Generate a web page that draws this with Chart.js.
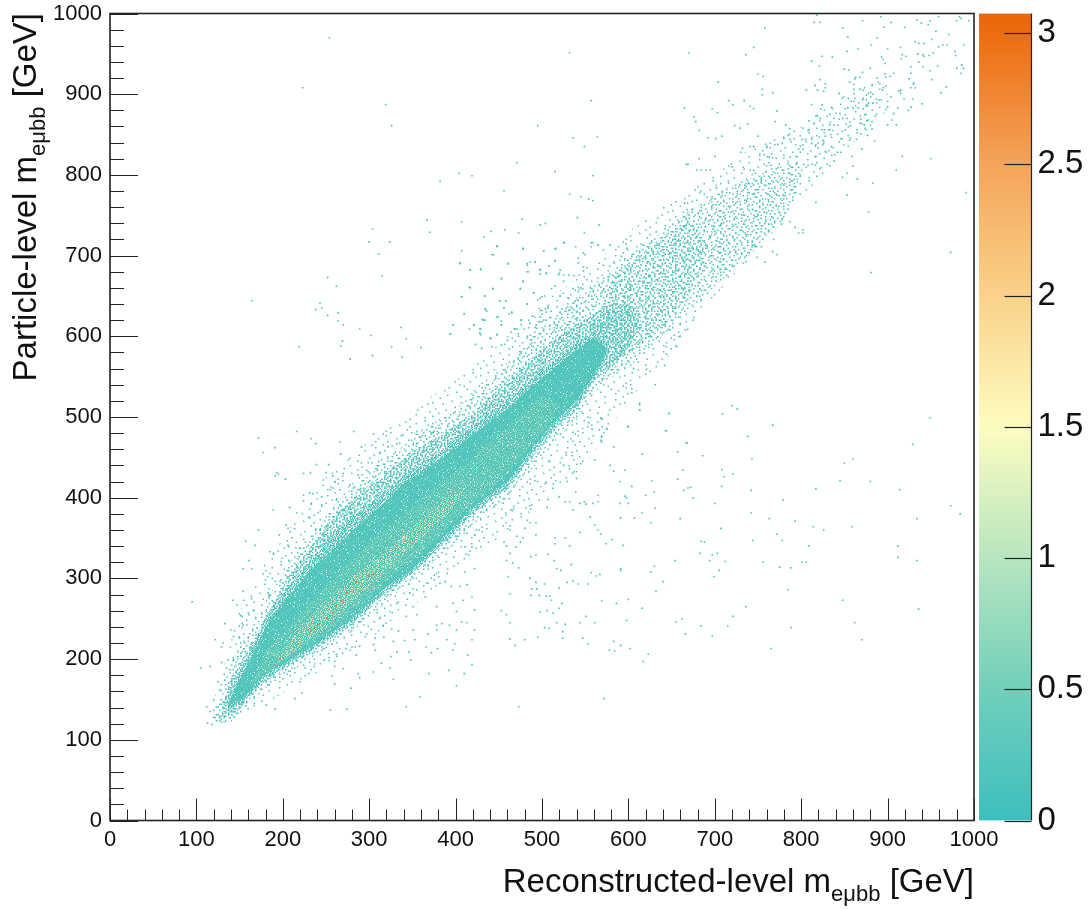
<!DOCTYPE html>
<html>
<head>
<meta charset="utf-8">
<title>Particle-level vs reconstructed-level mass</title>
<script src="https://cdn.jsdelivr.net/npm/chart.js@4"></script>
<style>
  html, body { margin: 0; padding: 0; background: #fff; }
  #wrap { position: relative; width: 1091px; height: 909px; overflow: hidden; }
  #main { position: absolute; left: 0; top: 0; }
  #zbar { position: absolute; left: 979px; top: 0; }
</style>
</head>
<body>
<div id="wrap">
  <canvas id="main" width="1091" height="909"></canvas>
  <canvas id="zbar" width="112" height="909"></canvas>
</div>
<script>
// axis ticks
const xTicks = [0, 100, 200, 300, 400, 500, 600, 700, 800, 900, 1000];
const yTicks = [0, 100, 200, 300, 400, 500, 600, 700, 800, 900, 1000];
const minorTicks = [20, 40, 60, 80, 120, 140, 160, 180, 220, 240, 260, 280, 320, 340, 360, 380, 420, 440, 460, 480, 520, 540, 560, 580, 620, 640, 660, 680, 720, 740, 760, 780, 820, 840, 860, 880, 920, 940, 960, 980];
const zTicks = [0, 0.5, 1, 1.5, 2, 2.5, 3];
const zMax = 3.075;
const zStops = [0, 0.5, 1, 1.5, 2, 2.5, 3.075];
const zColors = ["#3dbfbf", "#72cfbb", "#b8e6c0", "#fdfcc0", "#fbd28a", "#f4a45a", "#ec6405"];

// envelopes of the body at falling density (GeV)
const farX = [118, 150, 200, 250, 300, 350, 400, 450, 500, 550, 600, 650, 700, 750, 800, 850, 900];
const farUp = [140, 260, 350, 425, 470, 510, 545, 590, 640, 680, 730, 770, 800, 840, 860, 900, 925];
const farLow = [118, 125, 158, 190, 225, 265, 310, 350, 395, 440, 520, 580, 650, 710, 770, 830, 880];

const haloX = [122, 140, 160, 180, 200, 220, 240, 260, 280, 300, 320, 340, 360, 380, 400, 420, 440, 460, 480, 500, 520, 540, 560, 580, 600, 620, 640, 660, 680, 700, 720, 740, 760, 780, 800];
const haloUp = [135, 195, 235, 272, 305, 338, 365, 392, 412, 432, 448, 465, 482, 497, 510, 528, 548, 568, 590, 612, 630, 648, 665, 680, 700, 715, 730, 748, 762, 775, 785, 795, 805, 812, 815];
const haloLow = [120, 122, 143, 164, 178, 192, 207, 220, 234, 252, 272, 288, 305, 326, 344, 366, 384, 398, 425, 450, 476, 496, 530, 548, 562, 580, 600, 622, 640, 662, 680, 700, 720, 745, 790];

const wideX = [545, 580, 600, 620, 640, 655, 670, 690];
const wideUp = [560, 668, 690, 705, 720, 735, 745, 715];
const wideLow = [545, 565, 578, 595, 612, 632, 650, 700];

const sparseX = [128, 140, 150, 160, 180, 200, 220, 240, 260, 280, 300, 320, 340, 360, 380, 400, 420, 440, 460, 480, 500, 520, 540, 560, 580, 600, 615];
const sparseUp = [130, 178, 195, 212, 250, 290, 322, 350, 378, 398, 416, 430, 448, 464, 476, 490, 505, 525, 545, 565, 585, 600, 615, 628, 640, 640, 622];
const sparseLow = [125, 130, 138, 152, 172, 186, 200, 214, 228, 242, 262, 282, 298, 316, 338, 356, 380, 396, 410, 440, 464, 490, 508, 545, 560, 585, 618];

const solidX = [136, 150, 160, 180, 200, 220, 240, 260, 280, 300, 320, 340, 360, 380, 400, 420, 440, 460, 480, 500, 520, 540, 560, 575];
const thickUp = [146, 184, 204, 250, 281, 306, 332, 358, 376, 392, 408, 428, 442, 456, 472, 488, 505, 520, 540, 558, 575, 592, 606, 590];
const thickLow = [136, 144, 154, 177, 189, 203, 216, 231, 246, 265, 284, 298, 316, 338, 360, 382, 398, 414, 442, 470, 494, 514, 546, 578];
const solidUp = [144, 175, 195, 240, 270, 295, 318, 338, 358, 378, 396, 418, 432, 446, 462, 478, 495, 510, 530, 548, 565, 583, 598, 585];
const solidLow = [140, 148, 158, 182, 193, 207, 220, 235, 250, 270, 290, 303, 322, 344, 366, 388, 404, 420, 448, 476, 500, 520, 552, 580];

const ridgeX = [165, 180, 200, 220, 240, 260, 280, 300, 320, 340, 360, 380, 400, 420, 440, 460, 480, 500, 520];
const ridgeUp = [170, 210, 232, 256, 278, 302, 325, 345, 362, 378, 398, 416, 432, 450, 470, 488, 508, 528, 515];
const ridgeLow = [165, 182, 198, 212, 226, 240, 258, 278, 298, 314, 332, 352, 372, 392, 410, 430, 456, 480, 510];

const hotX = [195, 210, 230, 250, 270, 290, 310, 330, 350, 370, 390, 410];
const hotUp = [198, 226, 248, 268, 290, 310, 326, 344, 364, 382, 402, 412];
const hotLow = [194, 206, 224, 240, 260, 280, 298, 320, 338, 360, 378, 406];

// hottest single cells
const peakCells = [[233,236],[241,243],[236,238],[251,251],[262,266],[268,272],[274,282],[299,303],[197,201],[285,296],[305,305],[258,258]];

// single entries (x, y in GeV)
const tailDots = [[112,141],[116,135],[113,121],[118,119],[120,128],[127,127],[123,141],[129,144],[132,139],[139,135],[145,135],[143,129],[122,224],[129,215],[131,220],[140,236],[133,244],[142,273],[147,267],[154,284],[155,273],[164,275],[150,256],[161,255],[166,260],[153,253],[154,242],[143,228],[150,226],[156,220],[105,189],[116,191],[129,196],[135,189],[137,199],[143,199],[148,203],[95,271],[125,172],[127,162],[133,174],[137,170],[139,162],[135,154],[120,150],[131,147],[141,154],[181,143],[191,138],[214,151],[222,158],[255,137],[274,138],[343,141],[359,153],[279,164],[401,167],[260,169],[257,179],[270,188],[287,182],[289,177],[305,184],[328,175],[369,182],[392,186],[410,182],[419,193],[260,191],[260,197],[230,182],[220,172],[167,145],[157,142],[248,199],[285,205],[314,195],[324,189],[348,199],[332,209],[346,209],[325,203],[307,211],[305,218],[289,216],[284,215],[280,215],[273,213],[262,206],[253,207],[237,194],[226,189],[372,208],[397,211],[414,205],[399,219],[390,224],[379,213],[366,215],[353,224],[341,223],[328,222],[317,227],[307,226],[297,231],[419,224],[422,236],[413,245],[401,236],[393,242],[378,236],[368,231],[351,236],[334,235],[326,237],[316,242],[312,250],[343,253],[355,255],[378,242],[384,244],[407,246],[401,259],[395,290],[405,290],[413,292],[397,269],[409,273],[419,277],[422,261],[378,265],[365,277],[355,286],[347,282],[332,269],[324,259],[351,265],[368,294],[382,294],[388,296],[390,306],[378,306],[368,315],[411,308],[422,312],[415,329],[419,339],[411,339],[403,352],[422,354],[424,360]];

const upperEdgeDots = [[172,474],[216,482],[233,473],[238,467],[191,462],[177,456],[266,469],[267,454],[282,482],[239,441],[224,430],[232,431],[253,441],[247,422],[250,431],[258,427],[260,420],[193,431],[191,427],[195,429],[203,423],[270,430],[276,447],[291,463],[303,465],[305,479],[291,443],[303,443],[311,445],[297,434],[287,428],[278,416],[255,410],[245,401],[258,412],[224,403],[231,406],[235,405],[224,396],[233,392],[189,385],[208,388],[245,391],[241,381],[258,376],[216,381],[230,376],[172,360],[204,366],[206,362],[196,354],[157,346],[168,341],[206,341],[215,338],[185,333],[189,331],[161,322],[154,312],[164,312],[179,316],[199,325],[208,321],[185,306],[180,298],[197,296],[183,282],[184,278],[219,327],[233,339],[243,360],[251,364],[276,387],[262,397],[270,385],[282,391],[289,410],[282,412],[309,418],[320,430],[328,438],[336,443],[347,455],[355,467],[332,467],[322,463],[312,455],[339,478],[355,482],[374,481],[363,459],[378,465],[390,474],[212,300],[224,310]];

const upperLeftDots = [[254,970],[532,951],[223,908],[319,887],[326,861],[557,892],[495,861],[536,846],[549,835],[564,847],[471,815],[515,804],[559,799],[404,802],[419,799],[382,792],[456,780],[532,776],[545,773],[554,770],[559,768],[477,745],[541,747],[367,744],[407,742],[304,733],[370,729],[300,717],[324,717],[311,702],[315,675],[252,673],[262,662],[164,644],[243,641],[245,635],[238,633],[252,626],[264,629],[264,619],[270,614],[289,609],[337,611],[302,601],[343,597],[269,594],[267,588],[219,587],[326,587],[360,586],[278,572],[304,576],[338,574],[397,614],[394,603],[407,706],[405,691],[417,682],[429,683],[417,660],[443,659],[407,649],[434,650],[451,644],[458,644],[453,671],[461,690],[433,723],[441,730],[457,732],[473,728],[498,738],[504,740],[448,711],[444,701],[478,708],[502,706],[515,708],[525,716],[539,711],[557,711],[559,716],[565,713],[549,728],[566,738],[548,703],[550,701],[542,697],[542,691],[515,693],[508,687],[492,692],[486,692],[483,688],[483,680],[498,682],[498,677],[505,678],[521,682],[519,676],[525,676],[531,676],[537,675],[543,676],[548,681],[548,686],[552,685],[525,668],[515,662],[511,659],[478,668],[475,659],[491,654],[495,645],[500,649],[503,650],[521,650],[531,647],[536,659],[543,658],[545,660],[483,640],[498,632],[504,634],[507,636],[523,634],[532,633],[536,641],[541,645],[546,641],[434,634],[436,631],[410,628],[456,635],[462,628],[465,629],[431,621],[434,620],[449,624],[453,619],[453,614],[421,614],[416,609],[429,609],[429,602],[448,602],[440,598],[464,605],[468,609],[471,609],[476,620],[489,625],[498,624],[486,616],[492,611],[496,618],[502,620],[510,623],[518,614],[529,614],[541,623]];

const midEdgeDots = [[448,712],[478,709],[502,706],[516,709],[526,716],[405,690],[442,701],[461,690],[483,690],[492,692],[417,682],[429,683],[484,680],[498,683],[505,678],[520,678],[515,694],[453,672],[478,668],[416,661],[443,659],[475,659],[490,654],[521,650],[434,650],[407,649],[451,644],[458,644],[483,640],[456,635],[465,630],[410,628],[507,635],[500,632],[498,647],[505,630],[435,633],[432,620],[448,624],[453,614],[476,620],[421,614],[428,609],[397,614],[394,603],[428,604],[448,602],[441,597],[469,609],[460,595],[473,600],[483,600],[494,610],[498,618],[505,620],[517,610],[523,608],[521,630],[531,632],[540,630],[548,632],[423,590],[430,585],[442,587],[453,589],[466,587],[476,579],[490,587],[502,583],[511,593],[521,599],[531,604],[544,612],[552,620],[559,637],[563,649],[556,660],[552,670],[571,657],[577,674],[571,688],[590,682],[598,684],[584,674],[586,657],[594,649],[583,641],[575,630],[586,620],[606,635],[613,645],[602,661],[617,666],[625,674],[637,657],[633,641],[621,628],[640,678],[648,703],[667,695],[625,715],[633,713],[652,713],[660,715],[675,709],[613,695],[592,699],[598,709],[579,713],[557,716],[565,713],[571,707],[617,713],[604,699],[629,690],[583,692],[660,616],[644,587],[656,587],[666,608],[675,620],[660,600],[648,608],[631,540],[613,517],[613,509],[647,505],[644,483],[667,468],[599,488],[604,535],[604,530],[568,499],[575,486],[553,500],[554,493],[569,476],[569,470],[621,559],[642,564],[644,578],[606,560]];

const lowerRightDots = [[613,515],[613,509],[647,504],[720,514],[726,510],[709,504],[767,490],[738,476],[643,483],[600,488],[949,499],[929,466],[860,448],[850,443],[668,468],[657,457],[686,452],[743,448],[616,454],[663,434],[708,435],[721,429],[711,426],[657,423],[627,421],[604,414],[590,420],[708,414],[672,413],[669,412],[664,409],[630,407],[620,403],[675,400],[742,409],[817,411],[845,421],[880,420],[914,410],[779,397],[700,393],[973,390],[984,380],[934,374],[742,381],[763,374],[793,371],[814,364],[826,360],[859,364],[660,374],[631,387],[616,381],[607,375],[591,375],[626,369],[707,362],[772,355],[744,347],[778,347],[809,340],[912,340],[912,326],[934,322],[684,346],[688,345],[683,331],[697,329],[703,331],[694,322],[712,321],[654,322],[756,320],[775,314],[788,313],[801,320],[806,320],[705,310],[699,302],[630,315],[626,308],[640,296],[632,284],[591,312],[591,310],[594,341],[574,343],[581,348],[568,355],[544,357],[565,360],[561,366],[556,376],[848,273],[785,286],[736,265],[721,253],[715,241],[788,239],[765,213],[862,245],[870,224],[936,262],[662,250],[655,246],[684,241],[666,231],[697,229],[600,274],[569,272],[586,269],[616,263],[598,248],[561,245],[544,245],[551,253],[527,243],[517,245],[503,239],[508,238],[524,234],[524,226],[495,227],[480,224],[469,217],[463,225],[547,226],[553,219],[583,222],[591,217],[602,213],[578,211],[584,210],[623,206],[617,197],[572,151],[473,141],[463,245],[459,255],[453,260],[498,258],[506,260],[513,257],[520,263],[523,269],[511,273],[509,278],[505,278],[497,279],[487,279],[463,281],[488,287],[494,287],[493,295],[503,293],[486,300],[461,302],[520,288],[529,295],[536,297],[542,293],[553,293],[557,307],[563,303],[567,305],[522,310],[517,312],[534,317],[514,322],[507,330],[493,329],[487,327],[473,313],[466,319],[459,322],[463,331],[470,339],[475,345],[471,352],[478,350],[456,345],[459,340],[493,354],[515,350],[515,343],[527,350],[532,340],[480,362],[493,369],[486,369],[483,372],[463,365],[463,360],[458,381],[464,385],[467,386],[487,386],[486,390],[506,388],[507,398],[520,401],[527,395],[532,395],[536,385],[544,393],[549,395],[551,392],[559,393],[565,403],[565,395],[590,393],[600,393],[596,402],[598,400],[539,407],[513,417],[505,419],[495,420],[529,420],[540,424],[537,432],[525,440],[545,442],[561,447],[579,440],[583,433],[596,434],[535,452],[528,456],[508,445],[583,463],[569,469],[569,475],[536,470],[536,481],[558,485],[575,485],[553,488],[569,498]];

const topRightDots = [[818,998],[815,989],[822,989],[871,991],[892,996],[904,989],[896,983],[920,983],[848,982],[934,992],[939,988],[949,991],[947,986],[959,996],[956,978],[983,996],[985,994],[980,991],[994,991],[758,982],[971,974],[854,971],[888,970],[951,968],[932,965],[936,963],[942,963],[881,961],[959,959],[964,961],[969,961],[988,961],[745,958],[866,956],[900,956],[915,958],[853,953],[978,953],[670,951],[736,949],[824,947],[836,946],[917,949],[921,947],[916,944],[935,950],[941,949],[942,947],[948,948],[953,951],[979,948],[893,946],[895,943],[812,941],[897,938],[936,940],[821,935],[958,935],[986,936],[927,934],[941,934],[980,932],[988,932],[850,931],[855,930],[880,932],[949,929],[871,927],[927,926],[985,926],[897,925],[907,926],[750,925],[756,922],[862,919],[868,921],[863,921],[888,920],[903,922],[925,919],[951,918],[822,918],[856,915],[704,915],[930,914],[930,912],[882,911],[891,913],[816,911],[828,913],[895,908],[861,912],[861,906],[868,906],[872,905],[968,909],[927,908],[932,908],[755,906],[755,899],[767,902],[806,905],[819,905],[826,904],[828,908],[894,905],[913,904],[915,905],[915,901],[962,902],[844,901],[878,901],[883,900],[904,897],[847,895],[862,895],[887,894],[890,893],[871,893],[919,894],[929,894],[900,891],[940,888],[861,891],[878,889],[883,889],[716,892],[734,892],[721,887],[812,887],[824,887],[876,887],[854,883],[860,883],[866,883],[875,885],[900,884],[912,883],[927,884],[924,880],[898,881],[875,875],[887,875],[907,876],[741,885],[745,882],[665,883],[697,882],[772,879],[703,877],[836,882],[823,882],[845,876],[833,875],[817,873],[819,873],[676,872],[848,870],[678,866],[809,867],[822,870],[838,870],[853,870],[869,869],[876,867],[878,868],[882,866],[905,868],[738,863],[723,861],[729,858],[770,866],[782,862],[787,857],[815,864],[833,862],[838,862],[852,863],[857,861],[868,864],[873,862],[875,856],[882,857],[900,862],[910,862],[682,855],[802,858],[808,855],[824,856],[827,856],[832,856],[837,855],[851,856],[869,851],[877,849],[692,846],[701,845],[708,848],[750,848],[780,845],[785,849],[801,844],[805,844],[812,844],[821,847],[828,848],[834,850],[846,845],[857,846],[856,843],[864,844],[885,842],[826,842],[812,839],[817,837],[826,839],[759,838],[773,838],[778,839],[787,844],[802,837],[741,835],[732,833],[745,835],[760,834],[797,832],[799,828],[828,829],[835,835],[842,828],[730,828],[752,824],[757,825],[763,822],[767,821],[780,821],[787,822],[794,823],[817,823],[829,828],[839,825],[870,832],[859,823],[917,823],[950,820],[682,820],[700,823],[667,813],[669,813],[679,806],[684,806],[690,806],[695,806],[716,811],[720,810],[734,807],[741,806],[747,802],[760,811],[765,812],[773,809],[785,814],[795,814],[803,813],[808,812],[816,812],[823,809],[833,811],[838,817],[860,811],[910,806],[853,802],[848,797],[865,795],[883,790],[853,775],[991,778],[817,766],[878,754],[973,704],[881,679]];

const shoulderDots = [[665,765],[668,757],[674,767],[674,757],[684,780],[697,773],[702,784],[716,790],[726,777],[729,788],[739,790],[746,777],[754,790],[762,769],[772,775],[779,775],[756,763],[764,763],[774,761],[729,767],[737,767],[718,761],[698,763],[681,753],[669,751],[664,736],[675,736],[689,744],[710,753],[721,755],[731,751],[744,757],[750,751],[760,753],[775,753],[781,753],[689,736],[700,736],[708,740],[720,736],[733,739],[743,736],[758,740],[768,736],[777,739],[787,742],[793,735],[802,732],[797,728],[802,728],[679,730],[667,716],[683,718],[694,724],[700,730],[710,726],[721,724],[735,728],[748,728],[762,730],[768,720],[754,711],[745,713],[731,716],[723,720],[716,716],[706,716],[702,718],[704,711],[698,709],[691,711],[679,707],[669,707],[662,697],[675,697],[683,705],[706,703],[718,705],[731,703],[743,711],[767,705],[772,701],[749,698],[736,692],[758,692],[720,688],[710,695],[698,683],[706,683],[687,691],[677,693],[669,683],[683,683],[712,683]];

// speckle textures for the envelopes (style only)
const speckleColors = { a: "#4cc4bd", b: "#5cc9bb", c: "#7dd3b8", d: "#a8dfb6", e: "#e6f0b0", f: "#fbf6bd", g: "#f9d994" };
const solidTile = ["aabacaa.abaaca.a","a.aabaacaa.ababa","baacaa.abaaabaac","aab.aabacaab.aaa","caaabaa.aabaacab","a.baacaaab.aaaba","abaa.abaacaabaa.","aacabaa.abaaacab",".abaaacabaa.baaa","baa.cabaaaca.aba","aacaab.abaabaaca","ab.aaacaab.aacaa","aabaca.abaaabaa.","c.aabaaabca.abaa","aabaa.caabaaacab","ba.acabaa.abaaba"];
const sparseTile = ["a.b.a..a.ab.a..b.a",".a..ab...a...a.a..","a.a...a.b..a.b...a","..b.a...a.a....a.a","a...a.a.....ab.a..",".a.b...ab.a...a..b","a..a.a....a.a...a.","..a...b.a...b..a.a","b.a.a...a.a..a....","...a..a.b...a..b.a","a.b..a....a.a.a...",".a..b..a.a....a.ab","a...a.a..b.a.a....","..a.b...a...a..a.a",".a....a.b.a...b.a.","a.a.b...a..a.a...a","...a..a....b.a.a..","b.a..a.a.a....a..a"];
const wideTile = ["..a.....b..a......a.","a....a.........b....","...b......a.....a..a",".......a.....a......",".a..a.......a...b...","........b.a........a","..b...........a.....","a....a..a.....b...a.",".........a.a........","...a.b...........a.a",".a........b..a......","......a.........a...","..b.......a...b.....","a....a.........a...a","........a..b........","...a.........a..b...",".b.....a............","....a.....a....a...a","a.....b.........a...","..........a.b.......",];
const haloTile = ["a.....b...a.......a....b","...a.......a..b.........",".b.......a.......a.a....","......a.........a.....a.","..a.........b.......a...","........a.a.....a.......","a...b.............b....a","...........a..a.........",".a....a............a....","........b....a........a.","...a...........a..b.....","a.........a.............","......a.....b.....a.a...","..b..............a......","........a..a..........a.","a...a...........b.......",".........b...a.......a..","..a...............a.....","......a....a............","....b.........a...a..b..","a.........a............a","..a..a.........b........",".........a..a.......a...","...b............a.....a."];
const farTile = ["....a.............b.............",".....................a.........a",".a.........a....................",".......................a........","........b...................a...","................a...............","..a.......................b.....","..........a.....................","...................a...........a",".....a..........................","..........................a.....",".............b..................","a..................a............",".......a.....................a..","................................","...............a.........b......","..b.............................",".........a............a.........","..............................a.","....a.........a.................",".....................b..........","a...............................",".........b.................a....",".................a..............",".....a.....................a....","..............a.................","a....................a..........","..........a..................b..",".................a..............","....b...........................","...............a.........a......",".a..............................",];
const ridgeTile = ["c.d..c....d.c","...c..d.e...c","c.....c..d...",".e..d...c..c.","..c.....d...d","d...c.c....c.","...e......d..",".c...d.c.....","....c...e..c.","c.d.....c...d","...c.d.....c.",".c.....c.d...","....d.c...c.."];
const hotTile = ["e...f...g....",".f....e.....f","...g.....f...","f.....e...e..","...f.....g...",".e....f.....e","...f.e....f..","g.......e....","....f.g.....f",".e.......f...","...g.e.....e.","f.....f......","....e....g..."];

const softCell = 1.5;

function makeSpeckle(rows, cell) {
  const c = document.createElement("canvas");
  c.width = Math.ceil(rows[0].length * cell);
  c.height = Math.ceil(rows.length * cell);
  const g = c.getContext("2d");
  rows.forEach(function (row, j) {
    row.split("").forEach(function (ch, i) {
      if (speckleColors[ch]) {
        g.fillStyle = speckleColors[ch];
        g.fillRect(i * cell, j * cell, cell, cell);
      }
    });
  });
  return g.createPattern(c, "repeat");
}

function toPoints(xs, ys) {
  return xs.map(function (x, i) { return { x: x, y: ys[i] }; });
}

function pairs(list) {
  return list.map(function (p) { return { x: p[0], y: p[1] }; });
}

// two datasets that fill the space between them
function band(name, xs, up, low, tile, cell) {
  return [
    { label: name + " up", data: toPoints(xs, up), showLine: true, borderWidth: 0, pointRadius: 0, fill: "+1", backgroundColor: makeSpeckle(tile, cell) },
    { label: name + " low", data: toPoints(xs, low), showLine: true, borderWidth: 0, pointRadius: 0, fill: false }
  ];
}

const dotStyle = { pointStyle: "rect", pointRadius: 1.15, pointBorderWidth: 0, showLine: false };
const titleFamily = "'Liberation Sans', Arial, sans-serif";
const tickFont = { family: titleFamily, size: 22 };
const ink = "#111";

// fixed axis sizes, and no room kept for half of the end labels
function fixSize(w, h) {
  return function (scale) {
    if (w) scale.width = w;
    if (h) scale.height = h;
    scale.paddingTop = 0;
    scale.paddingBottom = 0;
    scale.paddingLeft = 0;
    scale.paddingRight = 0;
  };
}

function plainTick(v) {
  return String(v);
}

// ROOT style inward ticks, frame and the titles with their subscripts
const framePlugin = {
  id: "frame",
  afterDatasetsDraw: function (chart) {
    const c = chart.ctx, a = chart.chartArea, sx = chart.scales.x, sy = chart.scales.y;
    c.save();
    c.strokeStyle = "#222";
    c.lineWidth = 1;
    function seg(x0, y0, x1, y1) {
      c.beginPath(); c.moveTo(x0, y0); c.lineTo(x1, y1); c.stroke();
    }
    xTicks.forEach(function (v) { const p = Math.round(sx.getPixelForValue(v)) + 0.5; seg(p, a.bottom, p, a.bottom - 22); });
    minorTicks.forEach(function (v) { const p = Math.round(sx.getPixelForValue(v)) + 0.5; seg(p, a.bottom, p, a.bottom - 11); });
    yTicks.forEach(function (v) { const p = Math.round(sy.getPixelForValue(v)) + 0.5; seg(a.left, p, a.left + 28, p); });
    minorTicks.forEach(function (v) { const p = Math.round(sy.getPixelForValue(v)) + 0.5; seg(a.left, p, a.left + 14, p); });
    c.lineWidth = 1.6;
    c.strokeRect(a.left, a.top, a.right - a.left, a.bottom - a.top);

    c.fillStyle = ink;
    c.textBaseline = "alphabetic";
    c.textAlign = "left";
    function label(parts) {
      let pos = 0;
      parts.forEach(function (t) {
        c.font = t[1] + "px " + titleFamily;
        c.fillText(t[0], pos, t[2]);
        pos += c.measureText(t[0]).width;
      });
    }
    function width(parts) {
      let w = 0;
      parts.forEach(function (t) {
        c.font = t[1] + "px " + titleFamily;
        w += c.measureText(t[0]).width;
      });
      return w;
    }
    const xTitle = [["Reconstructed-level m", 33, 0], ["eμbb", 22, 9], [" [GeV]", 33, 0]];
    c.save();
    c.translate(a.right - width(xTitle), 892);
    label(xTitle);
    c.restore();
    const yTitle = [["Particle-level m", 33, 0], ["eμbb", 22, 9], [" [GeV]", 33, 0]];
    c.save();
    c.translate(36, 13 + width(yTitle));
    c.rotate(-Math.PI / 2);
    label(yTitle);
    c.restore();
    c.restore();
  }
};

document.addEventListener("DOMContentLoaded", function () {
  const dots = [].concat(tailDots, upperEdgeDots, upperLeftDots, midEdgeDots, lowerRightDots, topRightDots, shoulderDots);
  new Chart(document.getElementById("main").getContext("2d"), {
    type: "scatter",
    data: {
      datasets: [].concat(
        [Object.assign({ label: "peak", data: pairs(peakCells), backgroundColor: "#ee6f1e" }, dotStyle)],
        band("hot", hotX, hotUp, hotLow, hotTile, 1),
        band("ridge", ridgeX, ridgeUp, ridgeLow, ridgeTile, 1),
        band("solid", solidX, solidUp, solidLow, solidTile, 1),
        band("thick", solidX, thickUp, thickLow, sparseTile, 1),
        band("sparse", sparseX, sparseUp, sparseLow, sparseTile, softCell),
        band("wide", wideX, wideUp, wideLow, wideTile, softCell),
        band("halo", haloX, haloUp, haloLow, haloTile, softCell),
        band("far", farX, farUp, farLow, farTile, softCell),
        [Object.assign({ label: "entries", data: pairs(dots), backgroundColor: "#4cc4bd" }, dotStyle)]
      )
    },
    options: {
      responsive: false,
      animation: false,
      layout: { autoPadding: false, padding: { left: 0, right: 117, top: 13.5, bottom: 0 } },
      plugins: { legend: { display: false }, tooltip: { enabled: false } },
      scales: {
        x: {
          type: "linear", min: 0, max: 1000,
          grid: { display: false, drawTicks: false }, border: { display: false },
          afterBuildTicks: function (s) { s.ticks = xTicks.map(function (v) { return { value: v }; }); },
          afterFit: fixSize(0, 88.5),
          ticks: { font: tickFont, color: ink, padding: 6, autoSkip: false, maxRotation: 0, callback: plainTick }
        },
        y: {
          type: "linear", min: 0, max: 1000,
          grid: { display: false, drawTicks: false }, border: { display: false },
          afterBuildTicks: function (s) { s.ticks = yTicks.map(function (v) { return { value: v }; }); },
          afterFit: fixSize(110, 0),
          ticks: { font: tickFont, color: ink, padding: 8, autoSkip: false, callback: plainTick }
        }
      }
    },
    plugins: [framePlugin]
  });

  // colour scale
  new Chart(document.getElementById("zbar").getContext("2d"), {
    type: "bar",
    data: {
      labels: ["z"],
      datasets: [{
        data: [[0, zMax]],
        barPercentage: 1,
        categoryPercentage: 1,
        backgroundColor: function (ctx) {
          const a = ctx.chart.chartArea, sz = ctx.chart.scales.y;
          if (!a) return zColors[0];
          const g = ctx.chart.ctx.createLinearGradient(0, sz.getPixelForValue(0), 0, sz.getPixelForValue(zMax));
          zStops.forEach(function (v, i) { g.addColorStop(v / zMax, zColors[i]); });
          return g;
        }
      }]
    },
    options: {
      responsive: false,
      animation: false,
      layout: { autoPadding: false, padding: { left: 0, right: 0, top: 13.5, bottom: 88.5 } },
      plugins: { legend: { display: false }, tooltip: { enabled: false } },
      scales: {
        x: { display: false },
        y: {
          position: "right", min: 0, max: zMax,
          grid: { display: false, drawTicks: false }, border: { display: false },
          afterBuildTicks: function (s) { s.ticks = zTicks.map(function (v) { return { value: v }; }); },
          afterFit: fixSize(59.5, 0),
          ticks: {
            font: { family: titleFamily, size: 33 }, color: ink, padding: 6, autoSkip: false,
            callback: plainTick
          }
        }
      }
    },
    plugins: [{
      id: "zticks",
      afterDatasetsDraw: function (chart) {
        const c = chart.ctx, a = chart.chartArea, sz = chart.scales.y;
        c.save();
        c.strokeStyle = "#222";
        c.lineWidth = 1.2;
        c.beginPath(); c.moveTo(a.right, a.top); c.lineTo(a.right, a.bottom); c.stroke();
        zTicks.forEach(function (v) {
          const p = Math.round(sz.getPixelForValue(v)) + 0.5;
          c.beginPath(); c.moveTo(a.right, p); c.lineTo(a.right - 27, p); c.stroke();
        });
        c.restore();
      }
    }]
  });
});
</script>
</body>
</html>
